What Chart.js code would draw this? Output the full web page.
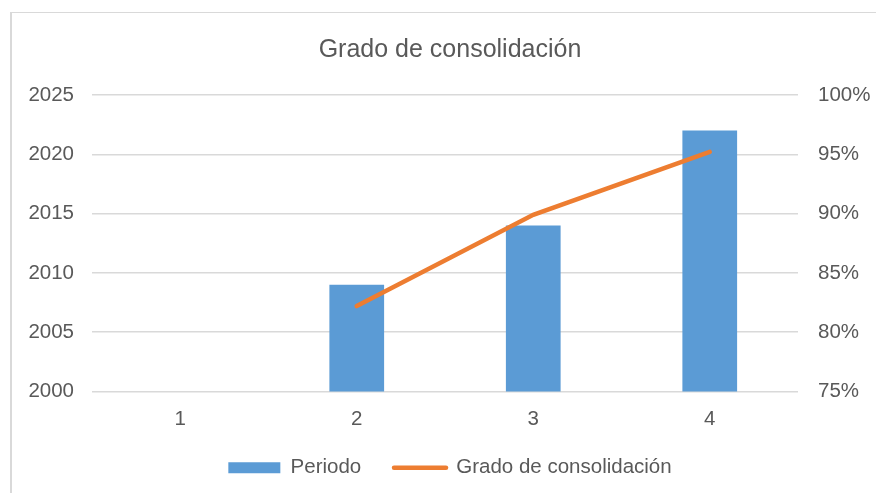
<!DOCTYPE html>
<html>
<head>
<meta charset="utf-8">
<script src="https://cdn.jsdelivr.net/npm/chart.js@4"></script>
<style>
  html, body { margin: 0; padding: 0; background: #fff; overflow: hidden; }
  #frame { position: absolute; left: 10px; top: 12px; width: 900px; height: 500px;
           border-top: 1px solid #d9d9d9; border-left: 2px solid #d9d9d9; }
  #chart { position: absolute; left: 0; top: 0; }
</style>
</head>
<body>
<div id="frame"></div>
<canvas id="chart" width="900" height="493"></canvas>
<script>
const categories = ['1', '2', '3', '4'];
const periodo = [null, 2009, 2014, 2022];
const grado = [null, 0.822, 0.899, 0.952];
const leftTicks = [2000, 2005, 2010, 2015, 2020, 2025];
const rightTicks = [0.75, 0.80, 0.85, 0.90, 0.95, 1.00];

const textColor = '#595959';
const fontFamily = '"Liberation Sans", Arial, sans-serif';

document.addEventListener('DOMContentLoaded', function () {
    const ctx = document.getElementById('chart').getContext('2d');
    new Chart(ctx, {
        type: 'bar',
        data: {
            labels: categories,
            datasets: [
                {
                    label: 'Periodo',
                    data: periodo,
                    backgroundColor: '#5B9BD5',
                    borderWidth: 0,
                    yAxisID: 'y',
                    barPercentage: 0.31,
                    categoryPercentage: 1,
                    order: 1
                },
                {
                    type: 'line',
                    label: 'Grado de consolidación',
                    data: grado,
                    borderColor: '#ED7D31',
                    backgroundColor: '#ED7D31',
                    borderWidth: 4.5,
                    borderCapStyle: 'round',
                    pointRadius: 0,
                    pointStyle: 'line',
                    yAxisID: 'y1',
                    order: 0
                }
            ]
        },
        options: {
            responsive: false,
            animation: false,
            layout: { padding: { left: 0, right: 0, top: 0, bottom: 5 } },
            plugins: {
                title: {
                    display: true,
                    text: 'Grado de consolidación',
                    color: textColor,
                    font: { family: fontFamily, size: 25, weight: 'normal' },
                    padding: { top: 35, bottom: 30 }
                },
                legend: {
                    position: 'bottom',
                    labels: {
                        color: textColor,
                        font: { family: fontFamily, size: 20.5 },
                        boxWidth: 52,
                        boxHeight: 11,
                        padding: 10,
                        usePointStyle: true,
                        pointStyleWidth: 52,
                        sort: (a, b) => a.datasetIndex - b.datasetIndex,
                        generateLabels: function (chart) {
                            const items = Chart.defaults.plugins.legend.labels.generateLabels(chart);
                            items.forEach(it => {
                                it.pointStyle = it.datasetIndex === 0 ? 'rect' : 'line';
                                it.lineCap = 'round';
                                // extra room after the first entry, like the original legend
                                if (it.datasetIndex === 0) it.text = it.text + '\u00a0\u00a0\u00a0\u00a0';
                            });
                            return items;
                        }
                    }
                },
                tooltip: { enabled: false }
            },
            scales: {
                x: {
                    grid: { display: false },
                    border: { display: false },
                    ticks: { color: textColor, font: { family: fontFamily, size: 20.5 }, padding: 8 },
                    afterFit: function (axis) { axis.height = 56; }
                },
                y: {
                    position: 'left',
                    min: leftTicks[0],
                    max: leftTicks[leftTicks.length - 1],
                    afterBuildTicks: function (axis) { axis.ticks = leftTicks.map(v => ({ value: v })); },
                    grid: { color: '#d9d9d9', lineWidth: 1.5, drawTicks: false },
                    border: { display: false },
                    ticks: {
                        color: textColor,
                        font: { family: fontFamily, size: 20.5 },
                        padding: 18,
                        callback: v => String(v)
                    },
                    afterFit: function (axis) { axis.width = 92; }
                },
                y1: {
                    position: 'right',
                    min: rightTicks[0],
                    max: rightTicks[rightTicks.length - 1],
                    afterBuildTicks: function (axis) { axis.ticks = rightTicks.map(v => ({ value: v })); },
                    grid: { display: false, drawTicks: false },
                    border: { display: false },
                    ticks: {
                        color: textColor,
                        font: { family: fontFamily, size: 20.5 },
                        padding: 20,
                        callback: v => Math.round(v * 100) + '%'
                    },
                    afterFit: function (axis) { axis.width = 102; }
                }
            }
        }
    });
});
</script>
</body>
</html>
